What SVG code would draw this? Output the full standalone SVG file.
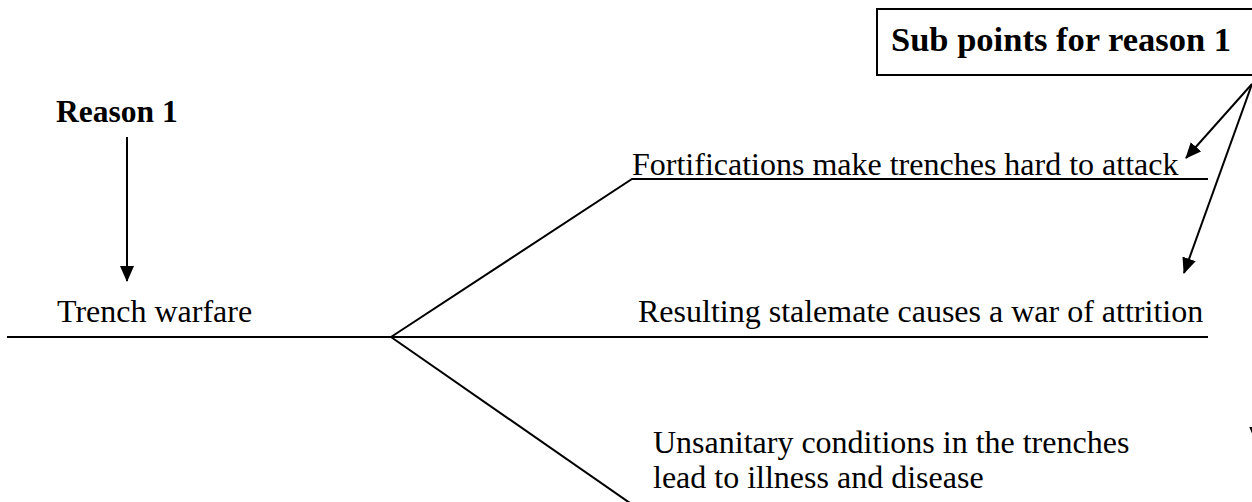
<svg xmlns="http://www.w3.org/2000/svg" width="1252" height="502" viewBox="0 0 1252 502">
<style>
.t{font-family:"Liberation Serif","Times New Roman",serif;font-size:32px;fill:#000}
.b{font-weight:bold;font-size:31.5px}
.bx{font-size:34.5px}
.ln{stroke:#000;stroke-width:2;fill:none}
</style>
<defs>
<marker id="ah" markerWidth="16" markerHeight="14" refX="15" refY="7" orient="auto" markerUnits="userSpaceOnUse">
<path d="M0,0 L16,7 L0,14 Z" fill="#000"/>
</marker>
</defs>
<rect width="1252" height="502" fill="#fff"/>
<g id="connectors">
<line class="ln" x1="7" y1="337" x2="1208" y2="337"/>
<polyline class="ln" points="391,337 632,179 1208,179"/>
<line class="ln" x1="391" y1="337" x2="640" y2="510"/>
<line class="ln" x1="127" y1="137" x2="127" y2="281" marker-end="url(#ah)"/>
<line class="ln" x1="1252" y1="84" x2="1186" y2="158" marker-end="url(#ah)"/>
<line class="ln" x1="1252" y1="84" x2="1184" y2="273" marker-end="url(#ah)"/>
<line class="ln" x1="1262" y1="84" x2="1256" y2="442" marker-end="url(#ah)"/>
</g>
<g id="box">
<rect x="877" y="9" width="390" height="66" fill="#fff" stroke="#000" stroke-width="2"/>
<text class="t b bx" x="891" y="51">Sub points for reason 1</text>
</g>
<g id="reason1"><text class="t b" x="56" y="122">Reason 1</text></g>
<g id="trench"><text class="t" x="57" y="322">Trench warfare</text></g>
<g id="fort"><text class="t" x="632" y="175">Fortifications make trenches hard to attack</text></g>
<g id="stalemate"><text class="t" x="638" y="322">Resulting stalemate causes a war of attrition</text></g>
<g id="unsanitary">
<text class="t" x="653" y="453">Unsanitary conditions in the trenches</text>
<text class="t" x="653" y="488">lead to illness and disease</text>
</g>
</svg>
